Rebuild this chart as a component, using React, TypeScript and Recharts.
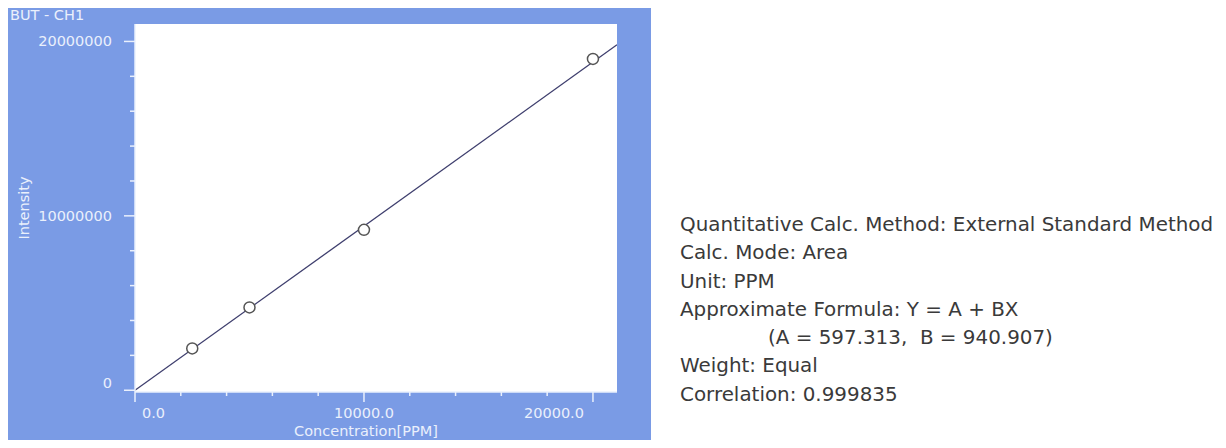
import React from 'react';
import { ComposedChart, CartesianGrid, Line, Scatter, XAxis, YAxis } from 'recharts';

// calibration standards
const concentration = [2500, 5000, 10000, 20000];
const intensity = [2400000, 4750000, 9200000, 19000000];

// regression line end points (Y = A + BX)
const fitX = [0, 21050];
const fitY = [600, 19806000];

const xTickValues = [0, 2000, 4000, 6000, 8000, 10000, 12000, 14000, 16000, 18000, 20000];
const xMajorTicks = [0, 10000, 20000];
const yTickValues = [0, 2000000, 4000000, 6000000, 8000000, 10000000, 12000000, 14000000, 16000000, 18000000, 20000000];
const yMajorTicks = [0, 10000000, 20000000];

const infoLines = [
  'Quantitative Calc. Method: External Standard Method',
  'Calc. Mode: Area',
  'Unit: PPM',
  'Approximate Formula: Y = A + BX',
  '(A = 597.313,  B = 940.907)',
  'Weight: Equal',
  'Correlation: 0.999835',
];

const BLUE = '#7a9be5';
const LIGHT = '#eaf0fc';
const FONT = '"DejaVu Sans", Verdana, sans-serif';

const points = concentration.map((x, i) => ({ x, y: intensity[i] }));
const fitLine = fitX.map((x, i) => ({ x, y: fitY[i] }));

const XTick = (props: any) => {
  const { x, y, payload } = props;
  const v = payload.value;
  const major = xMajorTicks.includes(v);
  let anchor = 'middle';
  let dx = 0;
  if (v === 0) { anchor = 'start'; dx = 7; }
  if (v === 20000) { anchor = 'end'; dx = -9; }
  return (
    <g>
      <line x1={x} x2={x} y1={y} y2={y + (major ? 10 : 4)} stroke={LIGHT} strokeWidth={1.5} />
      {major && (
        <text x={x + dx} y={y + 26} textAnchor={anchor} fill={LIGHT} fontSize={14.5} fontFamily={FONT}>
          {v.toFixed(1)}
        </text>
      )}
    </g>
  );
};

const YTick = (props: any) => {
  const { x, y, payload } = props;
  const v = payload.value;
  const major = yMajorTicks.includes(v);
  return (
    <g>
      <line x1={x - (major ? 11 : 5)} x2={x} y1={y} y2={y} stroke={LIGHT} strokeWidth={1.5} />
      {major && (
        <text x={x - 23} y={y + (v === 0 ? -2 : 5)} textAnchor="end" fill={LIGHT} fontSize={14.5} fontFamily={FONT}>
          {String(v)}
        </text>
      )}
    </g>
  );
};

export default function App() {
  return (
    <div style={{ position: 'relative', width: 1226, height: 448, margin: -8, overflow: 'hidden', background: '#fff' }}>
      <div style={{ position: 'absolute', left: 7, top: 5, width: 644, height: 443, background: BLUE }}>
        <ComposedChart width={644} height={443} margin={{ top: 19, right: 34, left: 8, bottom: 4 }}>
          <CartesianGrid fill="#ffffff" stroke="none" horizontal={false} vertical={false} />
          <XAxis
            type="number"
            dataKey="x"
            domain={[0, 21050]}
            ticks={xTickValues}
            interval={0}
            allowDataOverflow
            height={52}
            tickSize={0}
            tickMargin={0}
            tickLine={false}
            axisLine={{ stroke: LIGHT, strokeWidth: 1.5 }}
            tick={<XTick />}
            label={{
              value: 'Concentration[PPM]',
              position: 'insideBottom',
              offset: 8,
              dx: -10,
              fill: LIGHT,
              fontSize: 14.5,
              fontFamily: FONT,
            }}
          />
          <YAxis
            type="number"
            dataKey="y"
            domain={[-100000, 21000000]}
            ticks={yTickValues}
            interval={0}
            allowDataOverflow
            width={120}
            tickSize={0}
            tickMargin={0}
            tickLine={false}
            axisLine={{ stroke: LIGHT, strokeWidth: 1.5 }}
            tick={<YTick />}
            label={{
              value: 'Intensity',
              position: 'insideLeft',
              angle: -90,
              offset: 9,
              fill: LIGHT,
              fontSize: 14.5,
              fontFamily: FONT,
              style: { textAnchor: 'middle' },
            }}
          />
          <Line
            data={fitLine}
            dataKey="y"
            type="linear"
            dot={false}
            activeDot={false}
            stroke="#3f3f6e"
            strokeWidth={1.3}
            isAnimationActive={false}
          />
          <Scatter
            data={points}
            dataKey="y"
            isAnimationActive={false}
            shape={(p: any) => <circle cx={p.cx} cy={p.cy} r={5.5} fill="#ffffff" stroke="#555555" strokeWidth={1.5} />}
          />
        </ComposedChart>
        <div style={{ position: 'absolute', left: 3, top: 2, color: LIGHT, fontFamily: FONT, fontSize: 14.5, lineHeight: '17px' }}>
          BUT - CH1
        </div>
      </div>
      <div
        style={{
          position: 'absolute',
          left: 680,
          top: 211,
          fontFamily: FONT,
          fontSize: 19.9,
          lineHeight: '28.3px',
          color: '#3a3a3a',
          whiteSpace: 'pre',
        }}
      >
        {infoLines.map((t, i) => (
          <div key={i} style={{ paddingLeft: t.startsWith('(') ? 88 : 0 }}>{t}</div>
        ))}
      </div>
    </div>
  );
}
